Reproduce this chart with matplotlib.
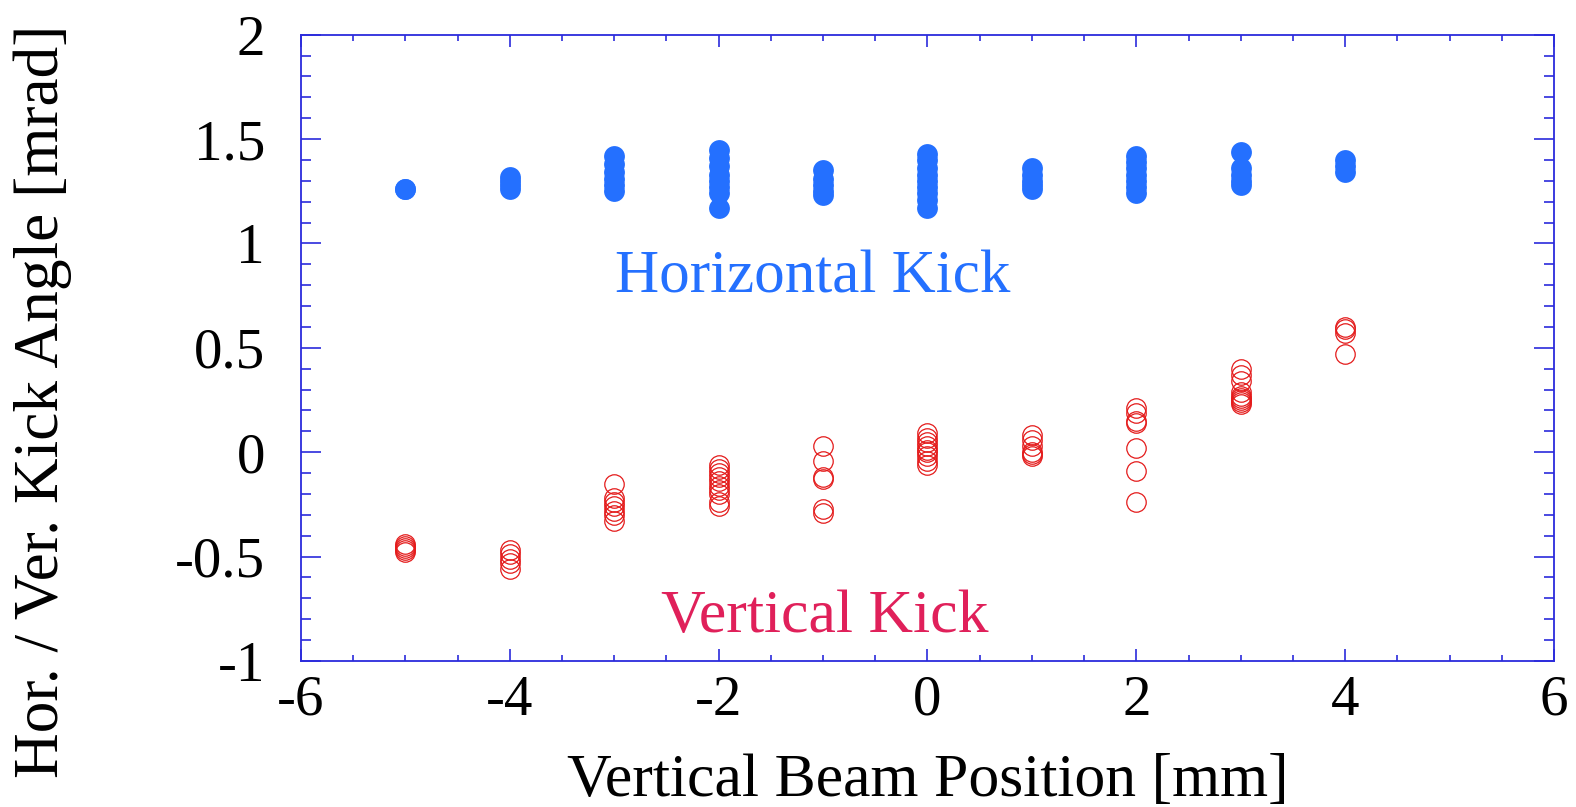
import matplotlib
matplotlib.use("Agg")
import matplotlib.pyplot as plt
from matplotlib.ticker import MultipleLocator, FuncFormatter

plt.rcParams['font.family'] = ['Liberation Serif', 'DejaVu Serif']
plt.rcParams['axes.unicode_minus'] = False

# beam positions [mm] and kick angles [mrad] measured at each position
positions = [-5, -4, -3, -2, -1, 0, 1, 2, 3, 4]

hor_kick = [
    [1.26, 1.26],
    [1.32, 1.30, 1.28, 1.26],
    [1.42, 1.38, 1.34, 1.31, 1.28, 1.25],
    [1.45, 1.41, 1.37, 1.33, 1.30, 1.27, 1.24, 1.17],
    [1.35, 1.31, 1.28, 1.25, 1.23],
    [1.43, 1.40, 1.36, 1.33, 1.30, 1.27, 1.24, 1.21, 1.17],
    [1.36, 1.33, 1.30, 1.28, 1.26],
    [1.42, 1.39, 1.36, 1.33, 1.30, 1.27, 1.24],
    [1.44, 1.36, 1.33, 1.30, 1.28],
    [1.40, 1.37, 1.34],
]

ver_kick = [
    [-0.44, -0.45, -0.46, -0.47, -0.48],
    [-0.47, -0.49, -0.51, -0.53, -0.56],
    [-0.15, -0.22, -0.24, -0.26, -0.28, -0.30, -0.33],
    [-0.06, -0.08, -0.10, -0.12, -0.14, -0.16, -0.18, -0.20, -0.24, -0.26],
    [0.03, -0.04, -0.12, -0.13, -0.27, -0.29],
    [0.09, 0.07, 0.05, 0.03, 0.01, 0.0, -0.02, -0.04, -0.06],
    [0.08, 0.06, 0.03, 0.0, -0.01, -0.02],
    [0.21, 0.19, 0.15, 0.14, 0.02, -0.09, -0.24],
    [0.40, 0.37, 0.34, 0.29, 0.27, 0.26, 0.25, 0.24, 0.23],
    [0.60, 0.59, 0.57, 0.47],
]

blue = '#2470ff'
red = '#e41a1a'
axis_color = '#2b2bdc'

fig = plt.figure(figsize=(15.76, 8.07), dpi=100)
ax = fig.add_axes([0.191, 0.181, 0.795, 0.776])

for x, ys in zip(positions, hor_kick):
    ax.plot([x] * len(ys), ys, 'o', ms=15, color=blue, mec=blue, mew=0)
for x, ys in zip(positions, ver_kick):
    ax.plot([x] * len(ys), ys, 'o', ms=14, mfc='none', mec=red, mew=0.9)

ax.text(-1.10, 0.765, 'Horizontal Kick', color=blue, fontsize=44,
        ha='center', va='baseline')
ax.text(-0.98, -0.862, 'Vertical Kick', color='#e0205a', fontsize=44.5,
        ha='center', va='baseline')

ax.set_xlim(-6, 6)
ax.set_ylim(-1, 2)
ax.xaxis.set_major_locator(MultipleLocator(2))
ax.xaxis.set_minor_locator(MultipleLocator(0.5))
ax.yaxis.set_major_locator(MultipleLocator(0.5))
ax.yaxis.set_minor_locator(MultipleLocator(0.1))
fmt = FuncFormatter(lambda v, p: '%g' % v)
ax.xaxis.set_major_formatter(fmt)
ax.yaxis.set_major_formatter(fmt)

for s in ax.spines.values():
    s.set_color(axis_color)
    s.set_linewidth(1.3)
ax.tick_params(which='both', direction='in', top=True, right=True,
               color=axis_color, width=1.2, labelsize=41)
ax.tick_params(axis='x', which='major', length=8.6, pad=10)
ax.tick_params(axis='x', which='minor', length=4.3)
ax.tick_params(axis='y', which='major', length=14.4, pad=26)
ax.tick_params(axis='y', which='minor', length=7.2)

ax.set_xlabel('Vertical Beam Position [mm]', fontsize=44.5, labelpad=19)
ax.set_ylabel('Hor. / Ver. Kick Angle [mrad]', fontsize=45.5)
ax.yaxis.set_label_coords(-0.183, 0.414)

fig.savefig('out.png', dpi=100)
